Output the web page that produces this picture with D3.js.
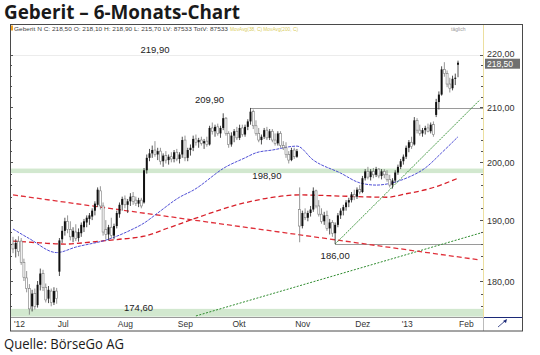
<!DOCTYPE html>
<html>
<head>
<meta charset="utf-8">
<script src="https://cdn.jsdelivr.net/npm/d3@7"></script>
<style>
  body { margin: 0; background: #fff; }
  svg { display: block; }
</style>
</head>
<body>
<svg id="chart" width="540" height="355"></svg>
<script>
// month labels, placed at the first trading day (bar index) of each month
const months = ["'12", "Jul", "Aug", "Sep", "Okt", "Nov", "Dez", "'13", "Feb"];
const monthStart = [0, 16, 38, 60, 80, 103, 125, 142, 163];

// daily candles, Geberit N (CHF)
const open = [186.0,185.2,186.4,186.5,183.0,180.5,178.8,176.0,178.0,176.2,179.4,181.2,179.0,177.2,178.4,176.6,178.4,181.5,186.8,188.2,
  189.8,188.4,187.2,188.0,187.0,187.8,188.8,189.6,190.2,190.6,191.6,192.6,195.0,192.4,188.4,187.6,188.8,187.4,189.0,191.0,
  192.6,193.6,192.6,193.2,194.0,193.4,192.8,193.4,193.0,198.6,200.8,201.6,202.2,201.4,202.0,200.2,201.2,200.4,201.0,200.6,
  201.8,200.6,201.4,204.0,200.8,202.2,202.6,204.2,203.6,204.0,203.4,203.8,203.2,206.2,205.6,206.4,205.2,206.2,208.0,205.2,
  203.2,204.8,205.6,204.4,206.2,205.0,206.4,207.4,209.2,206.6,205.2,204.0,204.6,205.8,204.4,205.6,204.0,203.4,205.2,203.0,
  202.6,201.4,200.4,202.2,201.0,191.8,189.0,191.2,190.4,191.2,191.8,195.0,192.4,191.0,189.8,190.8,188.6,189.6,187.8,189.2,
  190.8,191.6,192.2,193.0,193.4,194.4,194.0,195.2,194.8,197.2,198.4,197.4,198.4,197.8,198.8,197.6,198.4,197.8,197.0,196.0,
  196.8,198.2,199.2,200.2,201.0,202.6,203.6,203.2,207.6,205.8,205.2,205.8,206.2,205.6,206.8,208.6,211.0,212.4,217.2,216.4,
  214.4,213.6,215.4,218.1];
const high = [187.2,186.8,187.3,187.0,183.6,181.6,179.5,178.6,178.8,180.0,182.0,181.8,179.6,179.2,178.8,179.0,178.9,187.0,189.0,190.4,
  190.8,189.8,188.8,189.3,188.6,189.6,190.2,190.8,191.2,192.0,193.2,195.6,195.8,193.0,190.0,189.2,190.4,189.4,191.6,193.0,
  194.0,194.2,193.6,194.6,194.8,194.0,193.8,193.8,199.0,201.4,202.4,203.0,203.8,202.6,202.6,201.6,202.0,201.4,201.8,202.2,
  202.4,201.8,204.6,204.8,202.6,203.2,204.8,205.0,204.4,204.6,204.2,204.6,206.6,207.2,206.8,207.0,206.6,208.9,208.2,205.6,
  205.4,206.0,206.4,206.8,206.8,206.8,207.8,209.9,209.6,207.6,206.2,205.0,206.2,206.4,206.0,206.0,205.2,205.6,205.6,203.8,
  203.6,202.0,202.6,202.6,202.4,195.6,191.6,192.0,191.6,192.4,195.6,195.2,193.4,192.0,191.4,191.6,190.2,190.0,189.6,191.2,
  192.0,192.6,193.4,193.8,194.8,195.2,195.6,196.0,197.6,198.8,199.2,198.8,199.0,199.2,199.0,198.8,198.8,198.6,197.8,197.2,
  198.6,199.6,200.6,201.4,203.0,204.0,204.6,208.2,208.0,206.8,206.2,206.6,207.0,207.2,207.4,211.6,213.0,217.8,218.6,217.0,
  215.6,216.0,216.4,218.9];
const low = [184.5,183.8,184.0,182.6,180.0,178.2,174.7,175.2,175.5,175.8,178.5,178.4,176.6,176.5,176.0,176.2,176.4,180.8,186.2,187.4,
  187.8,186.6,186.3,186.5,186.4,187.2,188.0,188.8,189.2,190.0,190.8,192.2,191.8,187.4,186.8,186.6,187.0,186.8,188.6,190.4,
  191.6,192.0,191.2,192.4,192.6,192.4,192.2,192.0,192.8,198.0,200.2,200.8,201.0,200.4,199.6,199.2,199.8,199.6,200.0,200.0,
  200.2,199.8,200.8,200.2,200.2,201.2,202.0,203.0,202.6,203.0,202.4,202.8,203.0,205.0,204.6,204.8,204.4,205.8,204.8,202.6,
  202.8,203.6,204.0,204.0,204.6,204.6,205.8,206.8,206.0,204.8,203.6,203.2,204.2,204.0,204.0,203.6,203.0,203.0,202.6,202.2,
  200.8,199.8,200.2,200.6,200.8,186.3,188.6,190.0,189.8,190.6,191.4,192.0,190.6,189.4,189.2,188.2,187.6,187.2,186.0,188.8,
  190.2,190.8,191.6,192.2,193.0,193.4,193.6,194.4,194.6,196.8,197.0,196.8,197.2,197.4,197.2,197.0,197.2,196.6,195.6,195.4,
  196.4,197.8,198.8,199.6,200.6,201.8,202.4,203.0,205.2,204.8,204.6,205.0,205.4,205.2,204.6,208.2,209.6,212.2,215.8,213.8,
  212.8,213.2,214.2,215.7];
const close = [185.2,186.2,184.8,183.0,180.6,178.8,175.6,178.0,176.0,179.4,181.2,179.0,177.0,178.6,176.6,178.4,177.2,186.6,188.2,189.8,
  188.4,187.2,188.2,186.9,188.0,189.2,189.8,190.4,190.8,191.6,192.8,195.2,192.4,188.0,187.6,188.8,187.4,189.0,191.2,192.6,
  193.6,192.6,193.2,194.0,193.2,192.8,193.4,192.4,198.6,200.8,201.6,202.2,201.4,202.0,200.2,201.2,200.4,201.0,200.6,201.8,
  200.6,201.4,204.0,200.8,202.2,202.6,204.2,203.6,204.0,203.4,203.8,203.2,206.2,205.6,206.4,205.2,206.2,208.0,205.2,203.2,
  204.8,205.6,204.4,206.2,205.0,206.4,207.4,209.2,206.6,205.2,204.0,204.6,205.8,204.4,205.6,204.0,203.4,205.2,203.0,202.6,
  201.4,200.4,202.2,201.0,202.0,189.0,191.2,190.4,191.2,191.8,195.0,192.4,191.0,189.8,190.8,188.6,189.6,187.8,189.2,190.8,
  191.6,192.2,193.0,193.4,194.4,194.0,195.2,194.8,197.2,198.4,197.4,198.4,197.8,198.8,197.6,198.4,197.8,197.0,196.0,196.8,
  198.2,199.2,200.2,201.0,202.6,203.6,202.8,207.6,205.8,205.2,205.8,206.2,205.6,206.8,205.0,211.0,212.4,217.2,216.4,214.4,
  213.6,215.4,215.6,218.5];

// moving averages: [bar index, value]
const ma38 = [[0,188.5],[6,186.9],[16,184.6],[23,185.5],[35,186.8],[43,188.3],[48,189.5],[53,191.2],[61,193.9],[66,195.1],
  [78,199.2],[85,200.8],[89,201.7],[95,202.2],[104,202.9],[110,200.4],[120,198.1],[127,196.4],[133,196.0],[139,196.4],
  [144,197.2],[151,199.0],[157,201.7],[163,204.6]];
const ma200 = [[0,186.5],[10,186.2],[19,186.0],[28,186.3],[39,186.8],[48,187.3],[57,188.7],[68,190.5],[82,192.6],[94,193.8],
  [105,194.3],[120,194.1],[137,193.9],[144,194.5],[152,195.3],[163,197.2]];

// drawn trend lines: [bar index, value]
const redTrend = [[0, 194.3], [171, 183.4]];
const greenTrend = [[118, 186.0], [171, 211.4]];
const greenLower = [[67, 174.5], [172.5, 188.0]];

// marked levels
const bands = [[198.9, 198.1], [175.6, 174.4]];
const levelLabels = ["219,90", "209,90", "198,90", "186,00", "174,60"];
const levelValues = [219.9, 209.9, 198.9, 186.0, 174.6];
const levelLabelBar = [52, 72, 93, 118, 46];

const svg = d3.select("#chart");
const plot = {left: 10, right: 483, top: 33, bottom: 317};

const x = d3.scaleLinear().domain([0, 163]).range([13, 458]);
const y = d3.scaleLog().domain([180, 220]).range([281, 55]);
const fmt = v => d3.format(".2f")(v).replace(".", ",");

svg.append("rect").attr("width", 540).attr("height", 355).attr("fill", "#fff");

// title + source
svg.append("text").attr("x", 4).attr("y", 19)
  .attr("font-family", "Open Sans").attr("font-weight", 700).attr("font-size", 19)
  .attr("textLength", 236).attr("lengthAdjust", "spacingAndGlyphs")
  .attr("fill", "#1a1a1a").text("Geberit – 6-Monats-Chart");
svg.append("text").attr("x", 4).attr("y", 349)
  .attr("font-family", "Open Sans").attr("font-size", 14)
  .attr("textLength", 120).attr("lengthAdjust", "spacingAndGlyphs")
  .attr("fill", "#1a1a1a").text("Quelle: BörseGo AG");

// header row
svg.append("rect").attr("x", 11).attr("y", 25.5).attr("width", 2).attr("height", 5).attr("fill", "#f0a020");
svg.append("text").attr("x", 14).attr("y", 30.5)
  .attr("font-family", "Liberation Sans").attr("font-size", 5.5).attr("fill", "#444")
  .attr("textLength", 214).attr("lengthAdjust", "spacingAndGlyphs")
  .text("Geberit N C: 218,50 O: 218,10 H: 218,90 L: 215,70 LV: 87533 TotV: 87533");
svg.append("text").attr("x", 230).attr("y", 30.5)
  .attr("font-family", "Liberation Sans").attr("font-size", 5.5).attr("fill", "#d8cc60")
  .attr("textLength", 68).attr("lengthAdjust", "spacingAndGlyphs")
  .text("MovAvg(38, C) MovAvg(200, C)");
svg.append("text").attr("x", 451).attr("y", 30.5)
  .attr("font-family", "Liberation Sans").attr("font-size", 5).attr("fill", "#999").text("täglich");

svg.append("defs").append("clipPath").attr("id", "clip")
  .append("rect").attr("x", plot.left).attr("y", plot.top)
  .attr("width", plot.right - plot.left).attr("height", plot.bottom - plot.top);
const g = svg.append("g").attr("clip-path", "url(#clip)");

// support zones
g.selectAll(".band").data(bands).join("rect")
  .attr("x", plot.left).attr("width", plot.right - plot.left)
  .attr("y", d => y(d[0])).attr("height", d => y(d[1]) - y(d[0]))
  .attr("fill", "#d2e8cf");

// horizontal levels
g.append("line").attr("x1", plot.left).attr("x2", plot.right)
  .attr("y1", y(levelValues[0])).attr("y2", y(levelValues[0]))
  .attr("stroke", "#ececec").attr("stroke-width", 1);
g.append("line").attr("x1", x(87)).attr("x2", plot.right)
  .attr("y1", Math.round(y(levelValues[1])) + 0.5).attr("y2", Math.round(y(levelValues[1])) + 0.5)
  .attr("stroke", "#9a9a9a");
g.append("line").attr("x1", x(118)).attr("x2", plot.right)
  .attr("y1", Math.round(y(levelValues[3])) + 0.5).attr("y2", Math.round(y(levelValues[3])) + 0.5)
  .attr("stroke", "#9a9a9a");

const line = d3.line().x(d => x(d[0])).y(d => y(d[1]));
const curve = d3.line().x(d => x(d[0])).y(d => y(d[1])).curve(d3.curveMonotoneX);

g.append("path").datum(greenLower).attr("d", line).attr("fill", "none")
  .attr("stroke", "#2e8b2e").attr("stroke-width", 1).attr("stroke-dasharray", "2,1.5");
g.append("path").datum(redTrend).attr("d", line).attr("fill", "none")
  .attr("stroke", "#e0303a").attr("stroke-width", 1.3).attr("stroke-dasharray", "5,3");
g.append("path").datum(ma200).attr("d", curve).attr("fill", "none")
  .attr("stroke", "#d8202a").attr("stroke-width", 1.3).attr("stroke-dasharray", "5,3");
g.append("path").datum(ma38).attr("d", curve).attr("fill", "none")
  .attr("stroke", "#3b3bd0").attr("stroke-width", 0.9).attr("stroke-dasharray", "3,1");
g.append("path").datum(greenTrend).attr("d", line).attr("fill", "none")
  .attr("stroke", "#2a8a2a").attr("stroke-width", 0.9).attr("stroke-dasharray", "2,1");

// candles
const bars = d3.range(open.length);
g.selectAll(".wick").data(bars).join("line")
  .attr("x1", i => x(i)).attr("x2", i => x(i))
  .attr("y1", i => y(high[i])).attr("y2", i => y(low[i]))
  .attr("stroke", i => close[i] >= open[i] ? "#222" : "#7a7a7a").attr("stroke-width", 0.8);
g.selectAll(".body").data(bars).join("rect")
  .attr("x", i => x(i) - 1).attr("width", 2)
  .attr("y", i => y(Math.max(open[i], close[i])))
  .attr("height", i => Math.max(1, Math.abs(y(open[i]) - y(close[i]))))
  .attr("fill", i => close[i] >= open[i] ? "#111" : "#fff")
  .attr("stroke", i => close[i] >= open[i] ? "none" : "#7a7a7a").attr("stroke-width", 0.6);

// level labels
const labelDy = [-3, -5, 10, 15, -4];
svg.selectAll(".lvl").data(levelLabels).join("text")
  .attr("x", (d, k) => x(levelLabelBar[k])).attr("y", (d, k) => y(levelValues[k]) + labelDy[k])
  .attr("text-anchor", "middle").attr("font-family", "Liberation Sans").attr("font-size", 9.5)
  .attr("fill", "#222").text(d => d);

// right price axis
svg.append("line").attr("x1", plot.right + 0.5).attr("x2", plot.right + 0.5)
  .attr("y1", 25).attr("y2", plot.bottom).attr("stroke", "#ecdfa0");
const minor = d3.range(176, 221, 2);
svg.selectAll(".rt").data(minor).join("line")
  .attr("x1", v => plot.right - (v % 10 === 0 ? 3 : 2)).attr("x2", plot.right)
  .attr("y1", v => Math.round(y(v)) + 0.5).attr("y2", v => Math.round(y(v)) + 0.5)
  .attr("stroke", "#555");
svg.selectAll(".lt").data(minor).join("line")
  .attr("x1", plot.left).attr("x2", v => plot.left + (v % 10 === 0 ? 3 : 2))
  .attr("y1", v => Math.round(y(v)) + 0.5).attr("y2", v => Math.round(y(v)) + 0.5)
  .attr("stroke", "#555");
svg.selectAll(".rl").data(y.ticks(5).filter(v => v % 10 === 0)).join("text")
  .attr("x", plot.right + 4).attr("y", v => y(v) + (v === 220 ? 2 : 3.5))
  .attr("font-family", "Liberation Sans").attr("font-size", 9).attr("fill", "#333")
  .text(v => fmt(v));

// last price box
const last = close[close.length - 1];
svg.append("rect").attr("x", plot.right + 2).attr("y", y(last) - 4).attr("width", 35).attr("height", 10)
  .attr("fill", "#707070");
svg.append("text").attr("x", plot.right + 4).attr("y", y(last) + 4.5)
  .attr("font-family", "Liberation Sans").attr("font-size", 8.5).attr("fill", "#fff").text(fmt(last));

// bottom time axis
svg.append("line").attr("x1", plot.left).attr("x2", plot.right).attr("y1", plot.bottom + 0.5).attr("y2", plot.bottom + 0.5)
  .attr("stroke", "#999");
svg.append("line").attr("x1", plot.right).attr("x2", 522).attr("y1", plot.bottom + 0.5).attr("y2", plot.bottom + 0.5)
  .attr("stroke", "#1c2a78");
svg.append("line").attr("x1", plot.right + 0.5).attr("x2", plot.right + 0.5).attr("y1", plot.bottom).attr("y2", 331)
  .attr("stroke", "#bbb");
svg.selectAll(".mt").data(months).join("text")
  .attr("x", (d, k) => x(monthStart[k]) + 1).attr("y", 327)
  .attr("font-family", "Liberation Sans").attr("font-size", 8.5).attr("fill", "#333").text(d => d);
svg.append("path").attr("d", "M498,327 L505,321").attr("stroke", "#1c2a78").attr("stroke-width", 0.8);
svg.append("path").attr("d", "M503,321 L507,319 L506,323 Z").attr("fill", "#1c2a78");

// frame
svg.append("rect").attr("x", 10.5).attr("y", 24.5).attr("width", 512).attr("height", 306.5)
  .attr("fill", "none").attr("stroke", "#4a4a4a");
</script>
</body>
</html>
